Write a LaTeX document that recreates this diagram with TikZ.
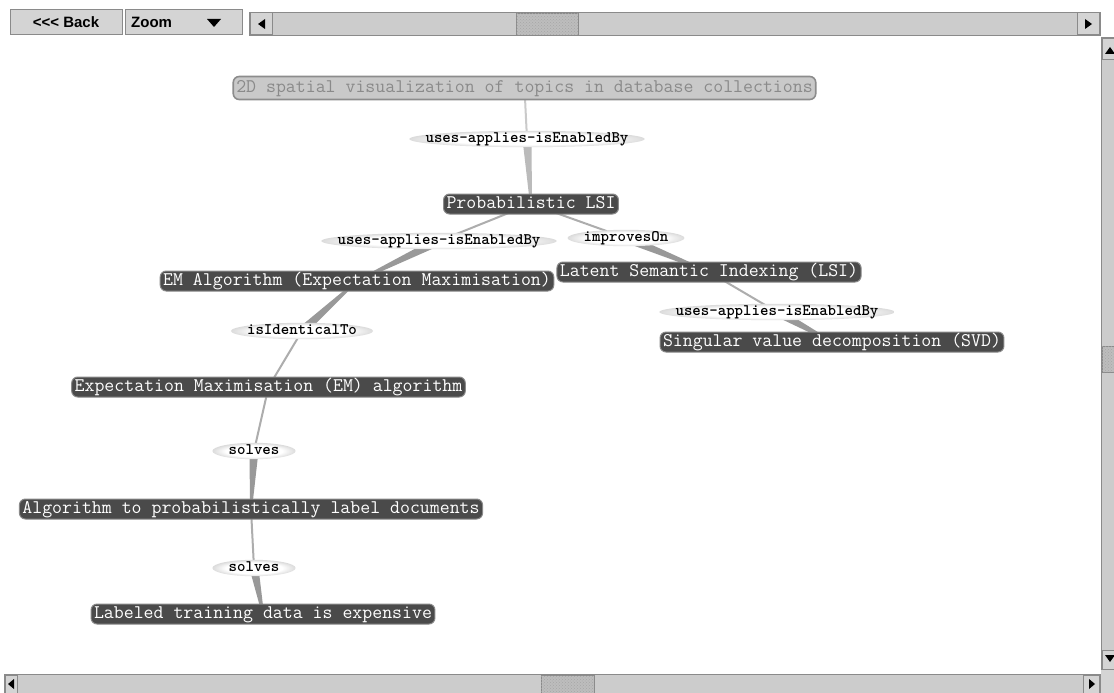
\documentclass[tikz,border=0pt]{standalone}
\usepackage{fontspec}
\newfontfamily\guifont{Liberation Sans}
\usetikzlibrary{calc,backgrounds,patterns}
\pgfdeclarelayer{glows}
\pgfsetlayers{background,glows,main}
\definecolor{nodefill}{HTML}{4A4A4A}
\definecolor{nodeedge}{HTML}{8A8A8A}
\definecolor{topfill}{HTML}{C9C9C9}
\definecolor{topedge}{HTML}{8C8C8C}
\definecolor{toptext}{HTML}{8A8A8A}
\definecolor{linegray}{HTML}{ADADAD}
\definecolor{wedgegray}{HTML}{999999}
\definecolor{toplinegray}{HTML}{CACACA}
\definecolor{topwedgegray}{HTML}{BBBBBB}
\definecolor{guifill}{HTML}{D4D4D4}
\definecolor{guiedge}{HTML}{8A8A8A}
\definecolor{trackfill}{HTML}{CCCCCC}
\definecolor{thumbfill}{HTML}{BDBDBD}
\pgfdeclareradialshading{glowshade}{\pgfpoint{0bp}{0bp}}{color(0bp)=(white); color(17bp)=(white); color(25bp)=(black!14); color(50bp)=(black!14)}
\newcommand\relwedge[3][]{\fill[wedgefill,#1] ($(#2.center)!4.5pt!90:(#3.center)$) -- ($(#3.center)!1pt!-90:(#2.center)$) -- ($(#3.center)!1pt!90:(#2.center)$) -- ($(#2.center)!4.5pt!-90:(#3.center)$) -- cycle;}
\newcommand\drawglow[1]{\shade[shading=glowshade] let \p1=(#1.south west), \p2=(#1.north east) in (#1.center) ellipse ({abs(\x2-\x1)/2} and {abs(\y2-\y1)/2});}
\tikzset{
  concept/.style={rectangle, rounded corners=6, fill=nodefill, draw=nodeedge, line width=1,
    text=white, font=\ttfamily\fontsize{19.3}{20}\selectfont, inner xsep=3, inner ysep=0,
    minimum height=20, text height=12, text depth=3.5},
  topconcept/.style={concept, fill=topfill, draw=topedge, line width=1.6, text=toptext, minimum height=23},
  rel/.style={rectangle, inner xsep=16, inner ysep=0, minimum height=16, text height=8.5, text depth=2.5,
    font=\ttfamily\bfseries\fontsize{16.1}{18}\selectfont, text=black},
  eline/.style={draw=linegray, line width=2},
  topline/.style={draw=toplinegray, line width=2},
  wedgefill/.style={fill=wedgegray},
  topwedge/.style={fill=topwedgegray},
  guibox/.style={fill=guifill, draw=guiedge, line width=1},
  guitext/.style={font=\guifont\bfseries\fontsize{15}{17}\selectfont, text=black, inner sep=0},
  track/.style={fill=trackfill, draw=guiedge, line width=1},
  thumb/.style={fill=thumbfill, draw=guiedge, line width=0.8},
  arrowtri/.style={fill=black}
}
\begin{document}
\begin{tikzpicture}[x=1pt,y=-1pt]
\useasboundingbox (0,0) rectangle (1114,693);

% concept nodes and relation labels
\node[topconcept] (n1) at (524.5,88) {2D spatial visualization of topics in database collections};
\node[rel] (l1) at (527,139) {uses-applies-isEnabledBy};
\node[concept] (n3) at (531,204) {Probabilistic LSI};
\node[rel] (l2) at (439,241) {uses-applies-isEnabledBy};
\node[rel] (l3) at (626,238) {improvesOn};
\node[concept] (n6) at (357,281) {EM Algorithm (Expectation Maximisation)};
\node[concept] (n7) at (709,272) {Latent Semantic Indexing (LSI)};
\node[rel] (l4) at (777,312) {uses-applies-isEnabledBy};
\node[concept] (n9) at (832,342) {Singular value decomposition (SVD)};
\node[rel] (l5) at (302,331) {isIdenticalTo};
\node[concept] (n11) at (268.5,387) {Expectation Maximisation (EM) algorithm};
\node[rel] (l6) at (254,451) {solves};
\node[concept] (n13) at (251,509) {Algorithm to probabilistically label documents};
\node[rel] (l7) at (254,568) {solves};
\node[concept] (n15) at (263,614) {Labeled training data is expensive};

\begin{pgfonlayer}{background}
\fill[white] (0,0) rectangle (1114,693);
\draw[topline] (n1.center) -- (l1.center);
\relwedge[topwedge]{l1}{n3}
\draw[eline] (n3.center) -- (l2.center);
\relwedge{l2}{n6}
\draw[eline] (n3.center) -- (l3.center);
\relwedge{l3}{n7}
\draw[eline] (n7.center) -- (l4.center);
\relwedge{l4}{n9}
\draw[eline] (n11.center) -- (l5.center);
\relwedge{l5}{n6}
\draw[eline] (n11.center) -- (l6.center);
\relwedge{l6}{n13}
\draw[eline] (n13.center) -- (l7.center);
\relwedge{l7}{n15}
\end{pgfonlayer}

\begin{pgfonlayer}{glows}
\drawglow{l1}
\drawglow{l2}
\drawglow{l3}
\drawglow{l4}
\drawglow{l5}
\drawglow{l6}
\drawglow{l7}
\end{pgfonlayer}

% toolbar
\node[guibox, minimum width=112, minimum height=25, inner sep=0] (back) at (66,22.5) {};
\node[guitext] (backtext) at (back.center) {<<< Back};
\node[guibox, minimum width=117, minimum height=25, inner sep=0] (zoombox) at (184,22.5) {};
\node[guitext, anchor=west] (zoomtext) at ([xshift=6]zoombox.west) {Zoom};
\fill[arrowtri] (207,19) -- (221,19) -- (214,27) -- cycle;

% top horizontal scrollbar
\draw[track] (249,12.5) rectangle (1100,35.5);
\draw[guibox] (250,13) rectangle (272,35);
\fill[arrowtri] (258,24) -- (265,19) -- (265,29) -- cycle;
\draw[thumb] (516,13) rectangle (578,35);
\fill[pattern=crosshatch dots, pattern color=black!35] (516,13) rectangle (578,35);
\draw[guibox] (1077,13) rectangle (1099,35);
\fill[arrowtri] (1092,24) -- (1085,19) -- (1085,29) -- cycle;

% right vertical scrollbar
\draw[track] (1101.5,38) rectangle (1116,670);
\draw[guibox] (1102,39) rectangle (1116,60);
\fill[arrowtri] (1105,54) -- (1115,54) -- (1110,47) -- cycle;
\draw[thumb] (1102,346) rectangle (1116,372);
\fill[pattern=crosshatch dots, pattern color=black!35] (1102,346) rectangle (1116,372);
\draw[guibox] (1102,650) rectangle (1116,669);
\fill[arrowtri] (1105,655) -- (1115,655) -- (1110,662) -- cycle;

% bottom horizontal scrollbar
\draw[track] (4.5,674.5) rectangle (1100,696);
\draw[guibox] (5,675) rectangle (17,695);
\fill[arrowtri] (8,684) -- (14,679) -- (14,689) -- cycle;
\draw[thumb] (541,675) rectangle (594,695);
\fill[pattern=crosshatch dots, pattern color=black!35] (541,675) rectangle (594,695);
\draw[guibox] (1083,675) rectangle (1099,695);
\fill[arrowtri] (1095,684) -- (1089,679) -- (1089,689) -- cycle;
\fill[guifill] (1101,670) rectangle (1114,693);
\end{tikzpicture}
\end{document}
